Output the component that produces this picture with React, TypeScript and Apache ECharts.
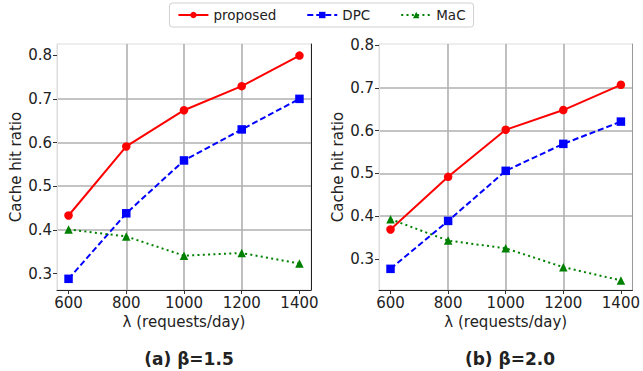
import React, { useEffect, useRef } from "react";
import * as echarts from "echarts";

const lambdas = [600, 800, 1000, 1200, 1400];
const xTicks = [600, 800, 1000, 1200, 1400];
const yTicks = [0.3, 0.4, 0.5, 0.6, 0.7, 0.8];

const proposedA = [0.433, 0.591, 0.674, 0.729, 0.799];
const dpcA = [0.288, 0.438, 0.559, 0.63, 0.7];
const macA = [0.401, 0.385, 0.341, 0.347, 0.323];

const proposedB = [0.369, 0.492, 0.602, 0.648, 0.707];
const dpcB = [0.277, 0.389, 0.506, 0.569, 0.621];
const macB = [0.393, 0.343, 0.325, 0.281, 0.25];

const titles = ["(a) β=1.5", "(b) β=2.0"];
const xName = "λ (requests/day)";
const yName = "Cache hit ratio";

const FONT = "DejaVu Sans";

export default function App() {
  const ref = useRef<HTMLDivElement>(null);
  useEffect(() => {
    const chart = echarts.init(ref.current!, null, { renderer: "svg" });
    const pair = (ys: number[]) => lambdas.map((x, i) => [x, ys[i]]);
    const grids = [
      { left: 57, top: 44, width: 254, height: 246 },
      { left: 379, top: 44, width: 255, height: 246 },
    ];
    const yRanges = [
      [0.2624, 0.8256],
      [0.2276, 0.8023],
    ];
    const xAxis = grids.map((_, i) => ({
      type: "value",
      gridIndex: i,
      min: 560,
      max: 1440,
      minInterval: 200,
      maxInterval: 200,
      name: xName,
      nameLocation: "middle",
      nameGap: 24,
      nameTextStyle: { fontFamily: FONT, fontSize: 15, color: "#222" },
      axisLine: { show: true, onZero: false, lineStyle: { color: "#222", width: 1 } },
      axisTick: { show: true, length: 4, customValues: xTicks, lineStyle: { color: "#333" } },
      axisLabel: {
        customValues: xTicks,
        fontFamily: FONT,
        fontSize: 15,
        color: "#222",
        margin: 5,
        formatter: (v: number) => String(v),
      },
      splitLine: { show: true, showMinLine: false, showMaxLine: false, lineStyle: { color: "#b0b0b0", width: 1.6 } },
    }));
    const yAxis: any[] = [];
    grids.forEach((_, i) => {
      yAxis.push({
        type: "value",
        gridIndex: i,
        min: yRanges[i][0],
        max: yRanges[i][1],
        minInterval: 0.1,
        maxInterval: 0.1,
        name: yName,
        nameLocation: "middle",
        nameGap: 34,
        nameTextStyle: { fontFamily: FONT, fontSize: 15, color: "#222" },
        axisLine: { show: true, lineStyle: { color: "#dddddd", width: 1 } },
        axisTick: { show: true, length: 4, customValues: yTicks, lineStyle: { color: "#333" } },
        axisLabel: {
          customValues: yTicks,
          fontFamily: FONT,
          fontSize: 15,
          color: "#222",
          margin: 5,
          formatter: (v: number) => v.toFixed(1),
        },
        splitLine: { show: true, showMinLine: false, showMaxLine: false, lineStyle: { color: "#b0b0b0", width: 1.6 } },
      });
    });
    // right spines
    grids.forEach((_, i) => {
      yAxis.push({
        type: "value",
        gridIndex: i,
        position: "right",
        min: yRanges[i][0],
        max: yRanges[i][1],
        axisLine: { show: true, lineStyle: { color: i === 0 ? "#222" : "#999", width: 1 } },
        axisTick: { show: false },
        axisLabel: { show: false },
        splitLine: { show: false },
      });
    });

    const mk = (name: string, data: number[], gi: number) => {
      const base: any = {
        name,
        type: "line",
        xAxisIndex: gi,
        yAxisIndex: gi,
        data: pair(data),
        symbolSize: 8.5,
      };
      if (name === "proposed") {
        return { ...base, symbol: "circle", itemStyle: { color: "#ff0000" }, lineStyle: { color: "#ff0000", width: 2 } };
      }
      if (name === "DPC") {
        return { ...base, symbol: "rect", itemStyle: { color: "#0000ff" }, lineStyle: { color: "#0000ff", width: 2, type: [6, 3] } };
      }
      return { ...base, symbol: "triangle", itemStyle: { color: "#008000" }, lineStyle: { color: "#008000", width: 2, type: [2, 3.3] } };
    };

    chart.setOption({
      animation: false,
      textStyle: { fontFamily: FONT },
      title: titles.map((t, i) => ({
        text: t,
        left: i === 0 ? 184 : 505,
        top: 345,
        textAlign: "center",
        textStyle: { fontFamily: FONT, fontSize: 17, fontWeight: "bold", color: "#222" },
      })),
      legend: {
        top: 3,
        left: "center",
        data: ["proposed", "DPC", "MaC"],
        itemWidth: 30,
        itemHeight: 8,
        itemGap: 30,
        padding: [5, 8],
        borderColor: "#d0d0d0",
        borderWidth: 1,
        borderRadius: 3,
        textStyle: { fontFamily: FONT, fontSize: 13.5, color: "#222" },
      },
      grid: grids.map((g) => ({ ...g, show: true, borderColor: "#dddddd", borderWidth: 1, containLabel: false })),
      xAxis,
      yAxis,
      series: [
        mk("proposed", proposedA, 0),
        mk("DPC", dpcA, 0),
        mk("MaC", macA, 0),
        mk("proposed", proposedB, 1),
        mk("DPC", dpcB, 1),
        mk("MaC", macB, 1),
      ],
    });
    return () => chart.dispose();
  }, []);
  return <div ref={ref} style={{ width: 643, height: 371, position: "absolute", left: 0, top: 0 }} />;
}
